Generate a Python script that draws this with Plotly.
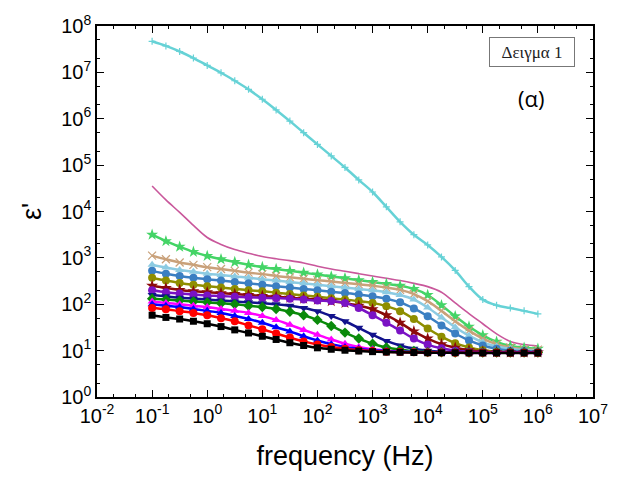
import plotly.graph_objects as go

freq = [0.1, 0.178, 0.316, 0.562, 1, 1.78, 3.16, 5.62, 10, 17.8, 31.6, 56.2,
        100, 178, 316, 562, 1000, 1780, 3160, 5620, 10000, 17800, 31600, 56200,
        100000, 178000, 316000, 562000, 1000000]

cyan = [4.68e7, 3.72e7, 2.82e7, 2.04e7, 1.41e7, 9.8e6, 6.6e6, 4.3e6, 2.63e6, 1.55e6,
        8.9e5, 5.0e5, 2.8e5, 1.58e5, 8.9e4, 4.8e4, 2.63e4, 1.26e4, 6.0e3, 3.16e3,
        1.9e3, 1.05e3, 537, 240, 126, 95, 83, 72, 62]
pink = [35500, 17800, 9550, 5010, 2750, 1950, 1510, 1260, 1070, 955, 871, 776, 661,
        575, 513, 457, 407, 363, 324, 282, 240, 182, 107, 63, 38, 23, 15.8, 13.5, 12.6]
green = [3160, 2290, 1740, 1350, 1100, 933, 813, 708, 631, 575, 525, 479, 437, 398,
         363, 331, 302, 275, 251, 214, 158, 95, 55, 33, 21.4, 15.5, 12.6, 11.5, 11.0]
tan = [1120, 933, 794, 708, 631, 575, 525, 479, 447, 407, 380, 355, 331, 309, 288,
       269, 251, 229, 204, 166, 117, 72, 43, 27, 18.2, 13.8, 11.7, 10.7, 10.5]
lightblue = [708, 617, 550, 501, 457, 427, 398, 372, 347, 324, 302, 282, 263, 245,
             229, 214, 200, 182, 158, 126, 85, 52, 32, 21, 15.1, 12.3, 11.0, 10.2, 10.0]
steelblue = [525, 457, 407, 372, 347, 324, 302, 282, 263, 245, 229, 214, 200, 186,
             174, 162, 148, 132, 110, 81, 55, 35, 23.4, 16.6, 12.9, 11.0, 10.0, 9.8, 9.5]
olive = [372, 324, 288, 263, 245, 229, 214, 200, 191, 178, 166, 155, 145, 135, 126,
         117, 107, 91, 71, 48, 30, 20, 14.5, 11.7, 10.2, 9.5, 9.3, 9.1, 9.1]
maroon = [251, 224, 204, 191, 182, 174, 166, 158, 151, 145, 138, 132, 126, 117, 107,
          93, 78, 58, 40, 26, 18.2, 13.8, 11.5, 10.2, 9.5, 9.3, 9.1, 9.1, 9.1]
purple = [200, 182, 170, 162, 155, 151, 145, 141, 138, 135, 132, 126, 120, 117, 107,
          83, 58, 40, 27, 18.2, 13.5, 11.2, 10.0, 9.5, 9.3, 9.1, 9.1, 9.1, 9.1]
navy = [158, 148, 138, 132, 126, 120, 115, 110, 105, 100, 93, 83, 71, 56, 43, 31, 22,
        16.2, 12.9, 11.0, 10.0, 9.5, 9.3, 9.2, 9.1, 9.1, 9.1, 9.1, 9.1]
darkgreen = [132, 126, 120, 115, 110, 105, 100, 93, 87, 79, 69, 58, 46, 34, 24.5,
             18.2, 14.1, 11.7, 10.5, 9.8, 9.3, 9.2, 9.1, 9.1, 9.1, 9.1, 9.1, 9.1, 9.1]
magenta = [115, 107, 100, 93, 87, 79, 72, 65, 56, 46, 36, 28, 22, 17.4, 14.1, 12.0,
           10.7, 10.0, 9.5, 9.3, 9.2, 9.1, 9.1, 9.1, 9.1, 9.1, 9.1, 9.1, 9.1]
blue = [100, 93, 87, 79, 72, 65, 56, 48, 40, 32, 26, 20.4, 16.6, 13.8, 12.0, 11.0,
        10.2, 9.8, 9.5, 9.3, 9.2, 9.1, 9.1, 9.1, 9.1, 9.1, 9.1, 9.1, 9.1]
red = [83, 78, 71, 65, 58, 50, 43, 35, 29, 23.4, 19.1, 15.8, 13.5, 12.0, 11.0, 10.2,
       9.8, 9.5, 9.3, 9.2, 9.1, 9.1, 9.0, 9.0, 9.0, 9.0, 9.0, 9.0, 9.0]
black = [58, 52, 48, 43, 38, 33, 28, 24, 20.4, 17.4, 14.8, 12.9, 11.5, 10.7, 10.2,
         9.8, 9.5, 9.3, 9.2, 9.1, 9.0, 9.0, 9.0, 8.9, 8.9, 8.9, 8.9, 8.9, 8.9]

x_tickvals = [0.01, 0.1, 1, 10, 100, 1e3, 1e4, 1e5, 1e6, 1e7]
x_ticktext = ["10<sup>-2</sup>", "10<sup>-1</sup>", "10<sup>0</sup>", "10<sup>1</sup>",
              "10<sup>2</sup>", "10<sup>3</sup>", "10<sup>4</sup>", "10<sup>5</sup>",
              "10<sup>6</sup>", "10<sup>7</sup>"]
y_tickvals = [1, 10, 100, 1e3, 1e4, 1e5, 1e6, 1e7, 1e8]
y_ticktext = ["10<sup>0</sup>", "10<sup>1</sup>", "10<sup>2</sup>", "10<sup>3</sup>",
              "10<sup>4</sup>", "10<sup>5</sup>", "10<sup>6</sup>", "10<sup>7</sup>",
              "10<sup>8</sup>"]

series = [
    ("cyan", cyan, "#66d2d6", "cross-thin", 5),
    ("pink", pink, "#c9579b", None, 0),
    ("green", green, "#44d466", "star", 9),
    ("tan", tan, "#c9a17a", "x-thin", 8),
    ("lightblue", lightblue, "#8ccbe2", "triangle-up", 8),
    ("steelblue", steelblue, "#3b7fc2", "circle", 8),
    ("olive", olive, "#8e8e00", "circle", 8),
    ("maroon", maroon, "#8b0a0a", "star", 9),
    ("purple", purple, "#7a12c4", "circle", 8),
    ("navy", navy, "#12128c", "triangle-down", 8),
    ("darkgreen", darkgreen, "#0a8a0a", "diamond", 8),
    ("magenta", magenta, "#ff00ff", "triangle-up", 8),
    ("blue", blue, "#0000ff", "triangle-up", 8),
    ("red", red, "#ff0000", "circle", 8),
    ("black", black, "#000000", "square", 7),
]

fig = go.Figure()
for name, vals, col, sym, sz in series:
    if sym is None:
        fig.add_trace(go.Scatter(x=freq, y=vals, mode="lines", name=name,
                                 line=dict(color=col, width=1.6, shape="spline")))
    else:
        mk = dict(color=col, symbol=sym, size=sz)
        if sym.endswith("-thin"):
            mk["line"] = dict(color=col, width=1.2)
        fig.add_trace(go.Scatter(x=freq, y=vals, mode="lines+markers", name=name,
                                 line=dict(color=col, width=2.5, shape="spline"), marker=mk))

axis_common = dict(
    type="log", showgrid=False, zeroline=False, showline=True, linecolor="black",
    linewidth=1.5, mirror="ticks", ticks="inside", ticklen=7, tickwidth=1.2,
    tickcolor="black",
    tickfont=dict(family="Liberation Sans, Arial", size=20, color="black"),
    minor=dict(ticks="inside", ticklen=3.5, tickcolor="black", tickwidth=1),
)

fig.update_xaxes(**axis_common, range=[-2, 7], tickvals=x_tickvals, ticktext=x_ticktext,
                 title=dict(text="frequency (Hz)", standoff=20,
                            font=dict(family="Liberation Sans, Arial", size=27, color="black")))
fig.update_yaxes(**axis_common, range=[0, 8], tickvals=y_tickvals, ticktext=y_ticktext,
                 title=dict(text="ε'", standoff=12,
                            font=dict(family="Liberation Sans, Arial", size=27, color="black")))

fig.add_annotation(xref="paper", yref="paper", x=0.79, y=0.971, xanchor="left", yanchor="top",
                   text="Δειγμα 1", showarrow=False, bordercolor="#777777", borderwidth=1,
                   width=80, height=24, borderpad=2, bgcolor="white",
                   font=dict(family="Liberation Serif, Times New Roman", size=17, color="#222"))
fig.add_annotation(xref="paper", yref="paper", x=0.876, y=0.805, xanchor="center", yanchor="middle",
                   text="(α)", showarrow=False,
                   font=dict(family="Open Sans, Liberation Sans", size=22, color="black"))

fig.update_layout(width=620, height=482, margin=dict(l=97, r=23, t=22, b=85),
                  paper_bgcolor="white", plot_bgcolor="white", showlegend=False)

fig.write_html("out.html")
